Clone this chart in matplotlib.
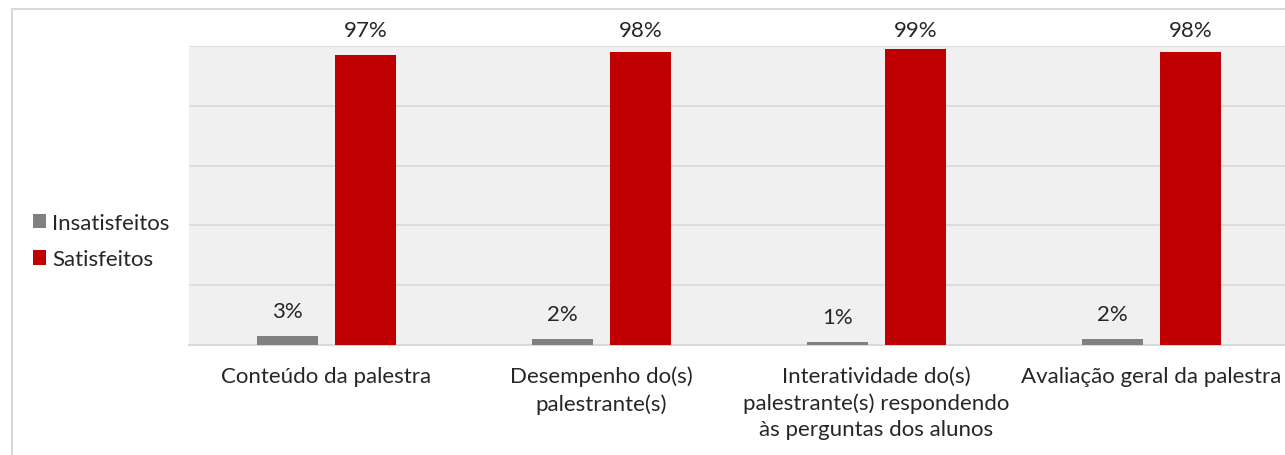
import numpy as np
import matplotlib.pyplot as plt
from matplotlib.patches import Rectangle

# dados
categorias = ['Conteúdo da palestra', 'Desempenho do(s)\npalestrante(s)',
              'Interatividade do(s)\npalestrante(s) respondendo\nàs perguntas dos alunos',
              'Avaliação geral da palestra']
insatisfeitos = [0.03, 0.02, 0.01, 0.02]
satisfeitos = [0.97, 0.98, 0.99, 0.98]
rotulos_insat = ['3%', '2%', '1%', '2%']
rotulos_sat = ['97%', '98%', '99%', '98%']

plt.rcParams['font.family'] = ['Lato', 'DejaVu Sans']

fig = plt.figure(figsize=(12.85, 4.56), dpi=100)
ax = fig.add_axes([189/1285, 1 - 346/456, 1100/1285, 299/456])

# moldura do grafico
fig.patches.append(Rectangle((12/1285, -0.1), 1.2, 1 - 10/456 + 0.1, transform=fig.transFigure,
                             fill=False, edgecolor='#D9D9D9', linewidth=1.5))

x = np.arange(len(categorias))
w = 0.225
off = 0.142
b1 = ax.bar(x - off, insatisfeitos, w, color='#808080', label='Insatisfeitos', zorder=3)
b2 = ax.bar(x + off, satisfeitos, w, color='#C00000', label='Satisfeitos', zorder=3)

fs = 16
for i in range(len(x)):
    ax.text(x[i] - off, insatisfeitos[i] + 0.05, rotulos_insat[i], ha='center', va='bottom',
            fontsize=fs, color='#262626')
    ax.text(x[i] + off, 1.02, rotulos_sat[i], ha='center', va='bottom',
            fontsize=fs, color='#262626', clip_on=False)

ax.set_xlim(-0.5, 3.5)
ax.set_ylim(0, 1.0)
ax.set_facecolor('#F0F0F0')
ax.set_yticks(np.arange(0, 1.01, 0.2))
ax.set_yticklabels([])
ax.tick_params(axis='y', length=0)
ax.tick_params(axis='x', length=0, pad=15)
ax.grid(axis='y', color='#D9D9D9', linewidth=1.2, zorder=0)
ax.set_xticks(x)
ax.set_xticklabels(categorias, fontsize=fs, color='#262626', linespacing=1.4)
for s in ['top', 'right', 'left']:
    ax.spines[s].set_visible(False)
ax.spines['bottom'].set_color('#D9D9D9')
ax.spines['bottom'].set_linewidth(1.5)

fig.legend(handles=[b1, b2], loc='center left', bbox_to_anchor=(13/1285, 1 - 242/456),
           frameon=False, fontsize=fs, handlelength=0.6, handleheight=0.6,
           handletextpad=0.25, labelspacing=0.75, labelcolor='#262626')

fig.savefig('out.png', dpi=100)
